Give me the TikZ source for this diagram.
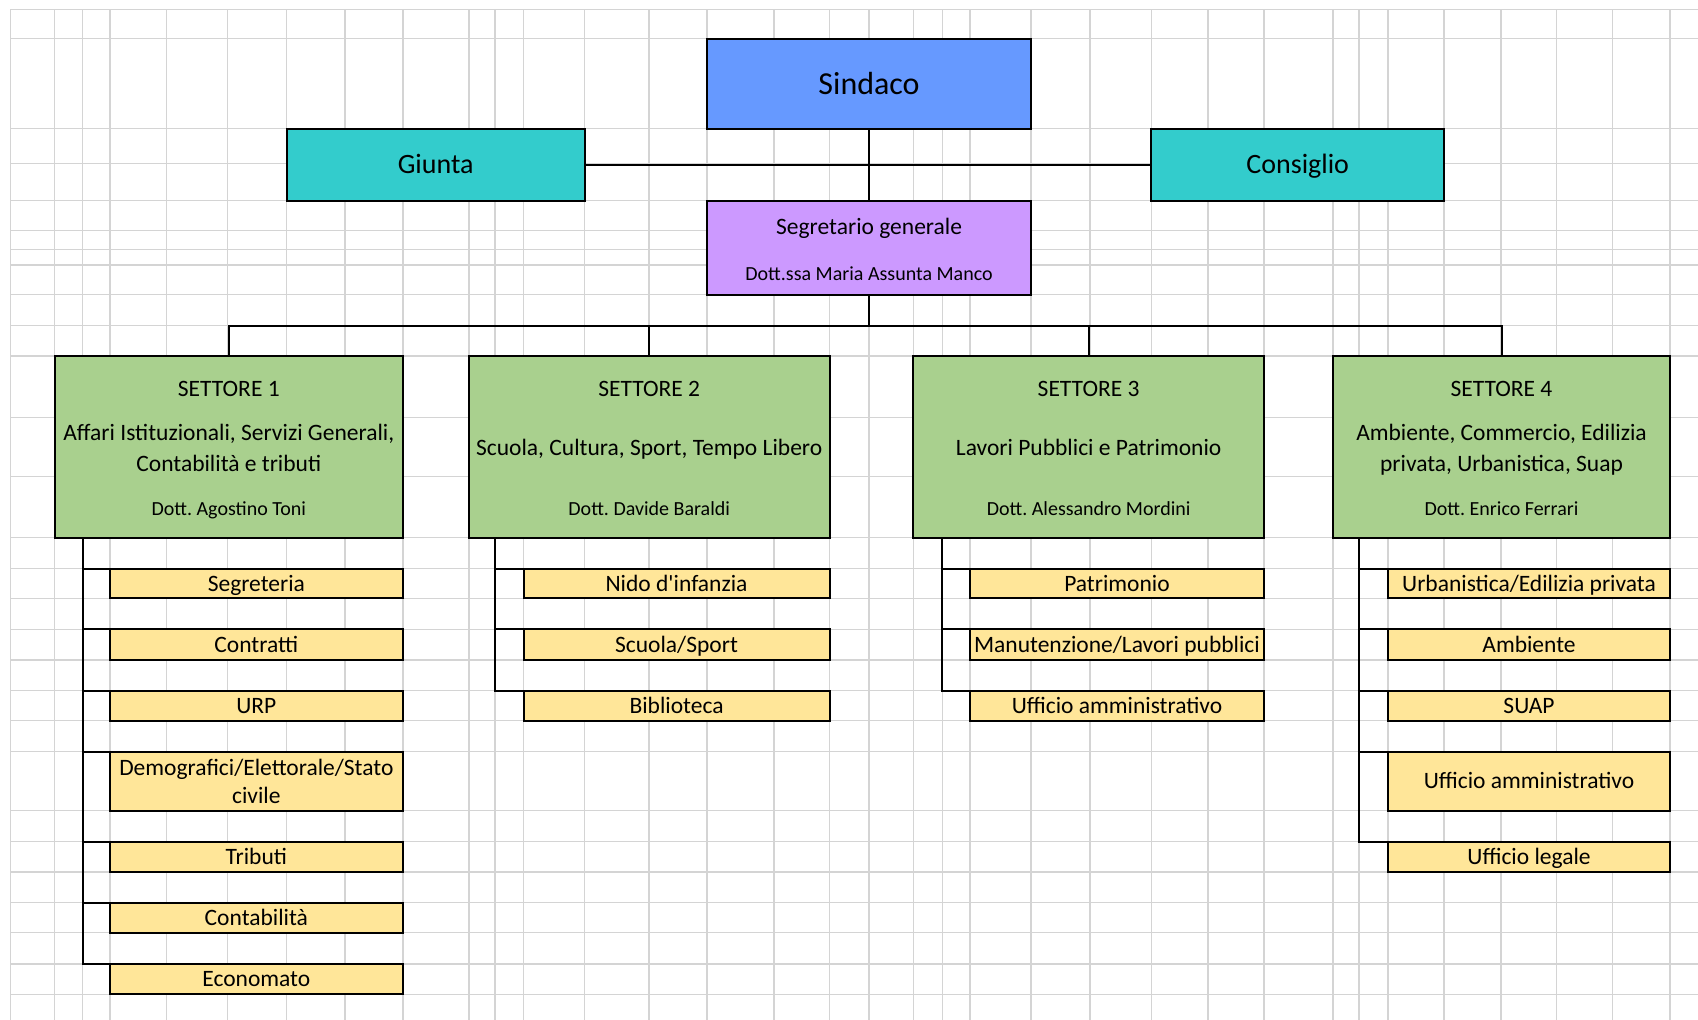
\documentclass[tikz,border=0pt]{standalone}
\usepackage{fontspec}
\setmainfont{Carlito}[Ligatures=TeXOff]
\pgfdeclarelayer{gridlayer}
\pgfdeclarelayer{connlayer}
\pgfsetlayers{gridlayer,connlayer,main}
\definecolor{gridgray}{RGB}{212,212,212}
\definecolor{sindblue}{RGB}{102,153,255}
\definecolor{giuntateal}{RGB}{51,204,204}
\definecolor{segviolet}{RGB}{204,153,255}
\definecolor{setgreen}{RGB}{169,208,142}
\definecolor{subyellow}{RGB}{255,230,153}
\tikzset{
  gridline/.style={draw=gridgray, line width=1.4pt},
  conn/.style={draw=black, line width=2pt},
  box/.style={rectangle, draw=black, line width=2pt, inner sep=0pt, outer sep=0pt},
  sindbox/.style={box, fill=sindblue, font=\fontsize{32}{38}\selectfont, text height=20.6pt, text depth=0pt},
  topbox/.style={box, fill=giuntateal, font=\fontsize{28}{34}\selectfont, text height=18pt, text depth=0pt},
  segbox/.style={box, fill=segviolet},
  setbox/.style={box, fill=setgreen},
  subbase/.style={box, fill=subyellow, font=\fontsize{23.5}{28}\selectfont},
  subbox/.style={subbase, text height=15.1pt, text depth=0pt},
  txt/.style={inner sep=0pt, anchor=base, font=\fontsize{23.5}{28}\selectfont},
  dott/.style={inner sep=0pt, anchor=base, font=\fontsize{20}{24}\selectfont},
  sub1/.style={subbox, minimum width=293.1pt},
  sub2/.style={subbox, minimum width=306.1pt},
  sub3/.style={subbox, minimum width=294pt},
  sub4/.style={subbox, minimum width=282pt},
}
\begin{document}
\frenchspacing
\begin{tikzpicture}[x=1pt,y=-1pt]
\useasboundingbox (0,0) rectangle (1698,1020);
\begin{pgfonlayer}{gridlayer}
\fill[white] (0,0) rectangle (1698,1020);
\foreach \gx in {10.7,54.7,82.7,109.8,166.5,227.7,286.6,344.8,402.9,468.8,494.8,523.5,584.7,649.0,706.8,774.1,829.6,869.0,913.3,942.2,970.0,1031.0,1090.1,1151.4,1208.0,1264.0,1333.0,1359.0,1388.0,1444.0,1501.0,1556.3,1612.4,1670.0}
  \draw[gridline] (\gx,9.3) -- (\gx,1020);
\foreach \gy in {9.3,38.7,128.7,163.7,200.7,230.7,249.3,265.0,294.7,325.7,356.0,417.3,476.7,537.7,568.7,598.3,629.3,660.0,690.7,720.7,751.7,810.7,841.7,872.0,902.5,932.7,963.8,994.2}
  \draw[gridline] (10.7,\gy) -- (1698,\gy);
\end{pgfonlayer}

% top level
\node[sindbox, minimum width=324.5pt, minimum height=90pt] (sind) at (869.05,83.7) {Sindaco};
\node[topbox, minimum width=298.1pt, minimum height=72pt] (giunta) at (435.65,164.7) {Giunta};
\node[topbox, minimum width=292.6pt, minimum height=72pt] (cons) at (1297.7,164.7) {Consiglio};
\node[segbox, minimum width=324.5pt, minimum height=94pt] (seg) at (869.05,247.7) {};
\node[txt] (segt) at (869.05,234.3) {Segretario generale};
\node[dott] (segd) at (869.05,280) {Dott.ssa Maria Assunta Manco};

% settori
\node[setbox, minimum width=348.2pt, minimum height=181.7pt] (s1) at (228.8,446.85) {};
\node[txt] (s1t) at (228.8,396.7) {SETTORE 1};
\node[txt] (s1a) at (228.8,440) {Affari Istituzionali, Servizi Generali,};
\node[txt] (s1b) at (228.8,471.7) {Contabilità e tributi};
\node[dott] (s1d) at (228.8,515.7) {Dott. Agostino Toni};

\node[setbox, minimum width=360.8pt, minimum height=181.7pt] (s2) at (649.2,446.85) {};
\node[txt] (s2t) at (649.2,396.7) {SETTORE 2};
\node[txt] (s2a) at (649.2,455) {Scuola, Cultura, Sport, Tempo Libero};
\node[dott] (s2d) at (649.2,515.7) {Dott. Davide Baraldi};

\node[setbox, minimum width=350.7pt, minimum height=181.7pt] (s3) at (1088.65,446.85) {};
\node[txt] (s3t) at (1088.65,396.7) {SETTORE 3};
\node[txt] (s3a) at (1088.65,455) {Lavori Pubblici e Patrimonio};
\node[dott] (s3d) at (1088.65,515.7) {Dott. Alessandro Mordini};

\node[setbox, minimum width=337pt, minimum height=181.7pt] (s4) at (1501.5,446.85) {};
\node[txt] (s4t) at (1501.5,396.7) {SETTORE 4};
\node[txt] (s4a) at (1501.5,440) {Ambiente, Commercio, Edilizia};
\node[txt] (s4b) at (1501.5,471.7) {privata, Urbanistica, Suap};
\node[dott] (s4d) at (1501.5,515.7) {Dott. Enrico Ferrari};

% uffici settore 1
\node[sub1, minimum height=29.6pt] (a1) at (256.35,583.5) {Segreteria};
\node[sub1, minimum height=30.7pt] (b1) at (256.35,644.65) {Contratti};
\node[sub1, minimum height=30pt] (c1) at (256.35,705.7) {URP};
\node[subbase, minimum width=293.1pt, minimum height=59pt, align=center] (d1) at (256.35,781.2) {Demografici/Elettorale/Stato\\civile};
\node[sub1, minimum height=30.3pt] (e1) at (256.35,856.85) {Tributi};
\node[sub1, minimum height=30.2pt] (f1) at (256.35,917.6) {Contabilità};
\node[sub1, minimum height=30.4pt] (g1) at (256.35,979) {Economato};

% uffici settore 2
\node[sub2, minimum height=29.6pt] (a2) at (676.55,583.5) {Nido d'infanzia};
\node[sub2, minimum height=30.7pt] (b2) at (676.55,644.65) {Scuola/Sport};
\node[sub2, minimum height=30pt] (c2) at (676.55,705.7) {Biblioteca};

% uffici settore 3
\node[sub3, minimum height=29.6pt] (a3) at (1117,583.5) {Patrimonio};
\node[sub3, minimum height=30.7pt] (b3) at (1117,644.65) {Manutenzione/Lavori pubblici};
\node[sub3, minimum height=30pt] (c3) at (1117,705.7) {Ufficio amministrativo};

% uffici settore 4
\node[sub4, minimum height=29.6pt] (a4) at (1529,583.5) {Urbanistica/Edilizia privata};
\node[sub4, minimum height=30.7pt] (b4) at (1529,644.65) {Ambiente};
\node[sub4, minimum height=30pt] (c4) at (1529,705.7) {SUAP};
\node[sub4, minimum height=59pt] (d4) at (1529,781.2) {Ufficio amministrativo};
\node[sub4, minimum height=30.3pt] (e4) at (1529,856.85) {Ufficio legale};

\begin{pgfonlayer}{connlayer}
\draw[conn] (sind.south) -- (seg.north);
\draw[conn] (giunta.east) -- (cons.west);
\coordinate (bus) at (869.05,325.7);
\draw[conn] (seg.south) -- (bus);
\draw[conn] (s1.north) |- (bus) -| (s4.north);
\draw[conn] (s2.north) -- (s2.north |- bus);
\draw[conn] (s3.north) -- (s3.north |- bus);
\coordinate (t1) at ([xshift=28pt]s1.south west);
\coordinate (t2) at ([xshift=26pt]s2.south west);
\coordinate (t3) at ([xshift=28.9pt]s3.south west);
\coordinate (t4) at ([xshift=26pt]s4.south west);
\foreach \n in {a1,b1,c1,d1,e1,f1,g1} \draw[conn] (t1) |- (\n.north west);
\foreach \n in {a2,b2,c2} \draw[conn] (t2) |- (\n.north west);
\foreach \n in {a3,b3,c3} \draw[conn] (t3) |- (\n.north west);
\foreach \n in {a4,b4,c4,d4,e4} \draw[conn] (t4) |- (\n.north west);
\end{pgfonlayer}
\end{tikzpicture}
\end{document}
